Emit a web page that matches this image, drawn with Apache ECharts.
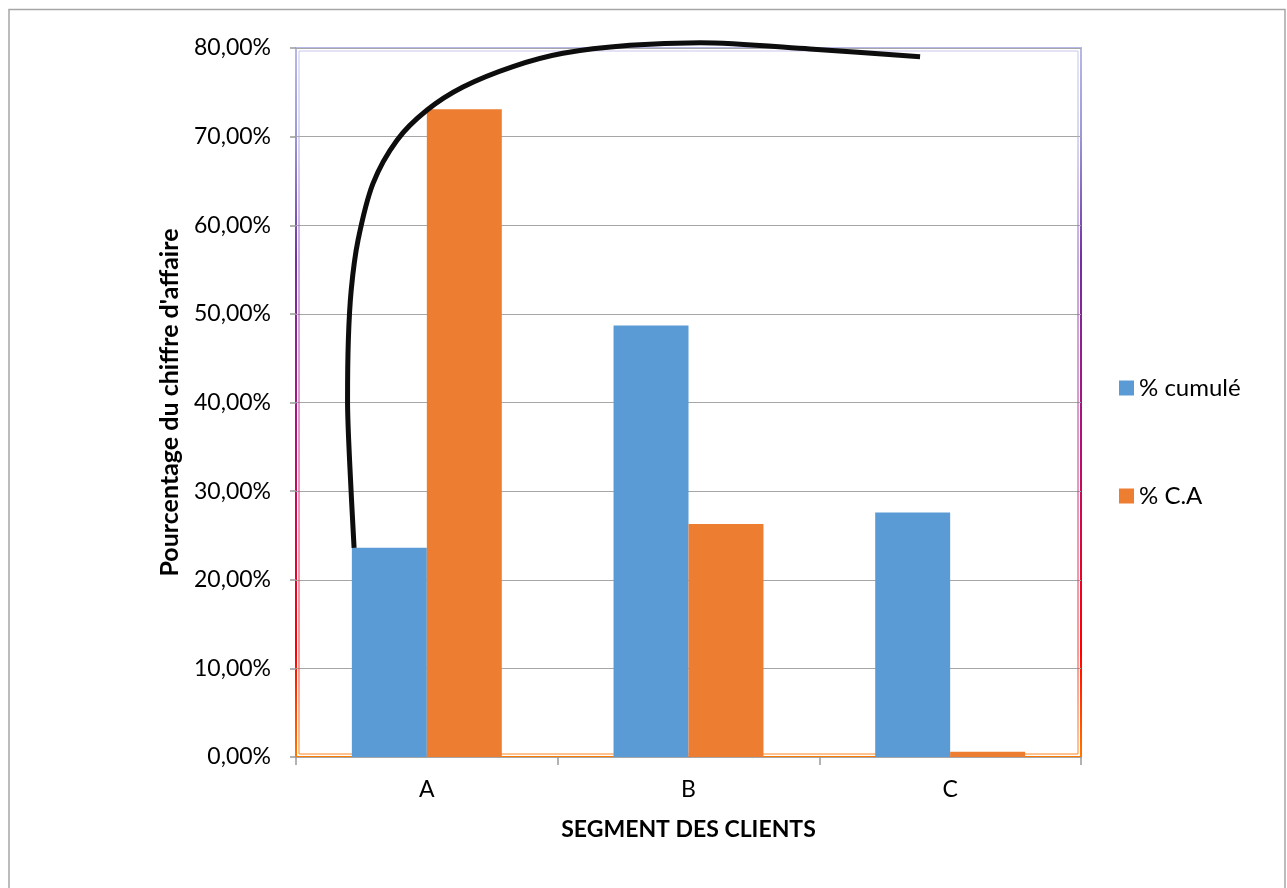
<!DOCTYPE html>
<html>
<head>
<meta charset="utf-8">
<script src="https://cdn.jsdelivr.net/npm/echarts@6/dist/echarts.min.js"></script>
<style>
html,body{margin:0;padding:0;background:#fff;}
#chart{width:1287px;height:888px;}
</style>
</head>
<body>
<div id="chart"></div>
<script>
// ---- data ----
const categories = ['A', 'B', 'C'];
const cumulValues = [23.6, 48.7, 27.6];
const caValues = [73.1, 26.3, 0.6];
const seriesNames = ['% cumulé', '% C.A'];
const yTicks = [0, 10, 20, 30, 40, 50, 60, 70, 80];
// hand-drawn curve, in category-position units (0..3) and percent
const curveX = [0.222, 0.206, 0.197, 0.200, 0.211, 0.237, 0.294, 0.386, 0.501, 0.638, 0.829, 1.020, 1.276, 1.544, 1.964, 2.385];
const curveY = [23.6, 32.7, 40.2, 47.0, 52.7, 58.3, 64.7, 69.6, 73.0, 75.6, 77.9, 79.4, 80.3, 80.6, 79.9, 79.0];
const xAxisTitle = 'SEGMENT DES CLIENTS';
const yAxisTitle = "Pourcentage du chiffre d'affaire";

const FONT = 'Lato, "Open Sans", sans-serif';
const G = {left: 296, right: 206, top: 48, bottom: 131};
const W = 1287, H = 888;

const chart = echarts.init(document.getElementById('chart'), null, {renderer: 'canvas'});
const borderGrad = new echarts.graphic.LinearGradient(0, 0, 0, 1, [
  {offset: 0, color: '#b8b8e8'},
  {offset: 0.12, color: '#9a9ad8'},
  {offset: 0.3, color: '#7030a0'},
  {offset: 0.55, color: '#b0107a'},
  {offset: 0.85, color: '#ff0000'},
  {offset: 1, color: '#ff7a00'}
]);
const innerGrad = new echarts.graphic.LinearGradient(0, 0, 0, 1, [
  {offset: 0, color: '#c8c8ec'},
  {offset: 0.12, color: '#b0b0e0'},
  {offset: 0.3, color: '#9050c0'},
  {offset: 0.55, color: '#c03090'},
  {offset: 0.85, color: '#ff3030'},
  {offset: 1, color: '#ff8a20'}
]);

const option = {
  backgroundColor: '#ffffff',
  animation: false,
  textStyle: {fontFamily: FONT},
  grid: {
    left: G.left, right: G.right, top: G.top, bottom: G.bottom,
    show: true, borderColor: borderGrad, borderWidth: 2, backgroundColor: 'transparent'
  },
  legend: {
    orient: 'vertical',
    left: 1114, top: 371,
    itemWidth: 15, itemHeight: 15,
    itemGap: 84,
    icon: 'rect',
    data: seriesNames,
    textStyle: {fontFamily: FONT, fontSize: 24, color: '#000'}
  },
  xAxis: [{
    type: 'category',
    data: categories,
    axisLine: {show: false},
    axisTick: {show: true, length: 8, lineStyle: {color: '#999', width: 1.5}},
    axisLabel: {fontSize: 23, color: '#000', margin: 21, fontFamily: FONT},
    name: xAxisTitle,
    nameLocation: 'middle',
    nameGap: 61,
    nameTextStyle: {fontSize: 23, fontWeight: 'bold', color: '#000', fontFamily: FONT},
    splitLine: {show: false}
  }, {
    type: 'value', min: 0, max: 3, show: false
  }],
  yAxis: {
    type: 'value',
    min: 0, max: 80, interval: 10,
    axisLine: {show: false},
    axisTick: {show: true, length: 6, lineStyle: {color: '#999', width: 1.5}},
    axisLabel: {
      fontSize: 23, color: '#000', margin: 25, fontFamily: FONT,
      formatter: v => yTicks.includes(v) ? v.toFixed(2).replace('.', ',') + '%' : ''
    },
    splitLine: {show: true, lineStyle: {color: '#a6a6a6', width: 1.2}},
    name: yAxisTitle,
    nameLocation: 'middle',
    nameGap: 114,
    nameTextStyle: {fontSize: 25, fontWeight: 'bold', color: '#000', fontFamily: FONT}
  },
  series: [{
    name: seriesNames[0], type: 'bar', data: cumulValues,
    itemStyle: {color: '#5b9bd5'},
    barGap: '0%', barCategoryGap: '42.7%'
  }, {
    name: seriesNames[1], type: 'bar', data: caValues,
    itemStyle: {color: '#ed7d31'},
    barGap: '0%', barCategoryGap: '42.7%'
  }, {
    name: 'courbe', type: 'line', xAxisIndex: 1, yAxisIndex: 0,
    data: curveX.map((x, i) => [x, curveY[i]]),
    smooth: 0.3, symbol: 'none', clip: false, z: 10,
    lineStyle: {color: '#0d0d0d', width: 5, cap: 'butt'}
  }],
  graphic: [{
    type: 'rect', silent: true, z: -1,
    shape: {x: 9, y: 9.5, width: W - 9 - 2, height: H},
    style: {fill: 'none', stroke: '#a6a6a6', lineWidth: 1.5}
  }, {
    type: 'rect', silent: true, z: 1,
    shape: {x: G.left + 3, y: G.top + 3, width: W - G.left - G.right - 6, height: H - G.top - G.bottom - 6},
    style: {fill: 'none', stroke: innerGrad, lineWidth: 1}
  }]
};
chart.setOption(option);
</script>
</body>
</html>
